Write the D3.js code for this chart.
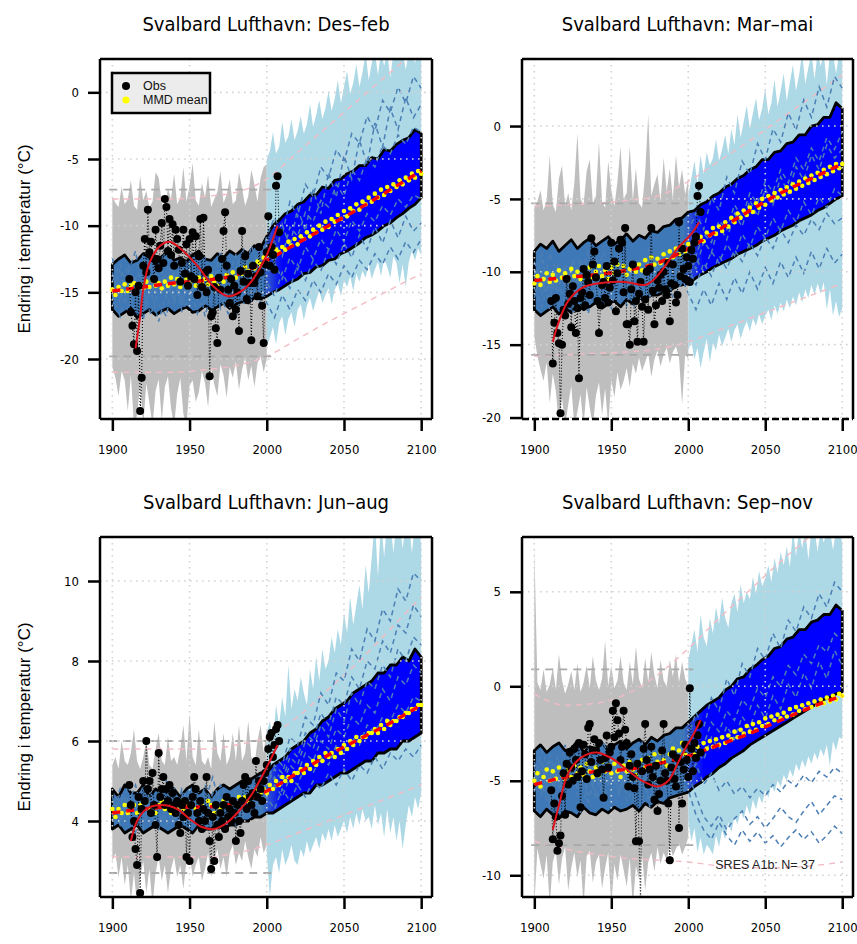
<!DOCTYPE html>
<html>
<head>
<meta charset="utf-8">
<script src="https://cdn.jsdelivr.net/npm/d3@7"></script>
<style>
  html, body { margin: 0; padding: 0; background: #fff; }
  svg { display: block; }
</style>
</head>
<body>
<svg id="chart" width="857" height="944"></svg>
<script>
// ---------- shared axis content ----------
const xDomain = [1892, 2107];
const xTicks = [1900, 1950, 2000, 2050, 2100];
const titles = ["Svalbard Lufthavn: Des–feb", "Svalbard Lufthavn: Mar–mai",
                "Svalbard Lufthavn: Jun–aug", "Svalbard Lufthavn: Sep–nov"];
const yLabel = "Endring i temperatur (°C)";
const legendLabels = ["Obs", "MMD mean"];
const ensembleNote = "SRES A1b: N= 37";

// year grids for the series below
const histYears = d3.range(1900, 2001, 2);   // 20C3M spread
const futYears = d3.range(2000, 2101, 2);    // scenario spread
const bandYears = d3.range(1900, 2101, 4);   // central ensemble band
const meanYears = d3.range(1900, 2101, 2);   // multi-model mean
const runYears = d3.range(1900, 2101, 5);    // single model runs
const trendYears = d3.range(1900, 2101, 20); // smoothed mean / quantile curves
const obsYears = d3.range(1911, 2009);       // station record

// ---------- Des–feb ----------
const djfYDomain = [-24.5, 2.5];
const djfYTicks = [-20, -15, -10, -5, 0];
const djfGreyHi = [-7.8,-8.3,-8.6,-7.1,-8.4,-8.0,-6.6,-8.5,-8.8,-6.3,
  -8.1,-7.4,-8.6,-8.2,-6.0,-6.4,-8.3,-8.7,-7.2,-8.0,
  -6.1,-8.4,-7.9,-5.6,-8.2,-7.0,-5.3,-8.1,-8.5,-6.8,
  -7.9,-6.2,-8.6,-8.0,-7.5,-5.9,-8.3,-7.7,-6.5,-8.4,
  -8.1,-6.0,-7.2,-8.5,-7.8,-5.8,-6.9,-8.2,-6.4,-5.6,
  -5.4];
const djfGreyLo = [-20.6,-21.4,-22.8,-20.9,-21.6,-23.9,-21.2,-25.0,-24.2,-22.0,
  -25.0,-21.8,-23.3,-25.0,-22.4,-21.5,-24.6,-22.1,-21.3,-23.7,
  -25.0,-22.6,-21.4,-24.1,-25.0,-22.0,-21.6,-23.2,-22.5,-20.9,
  -21.8,-23.6,-20.7,-21.9,-22.8,-20.4,-21.2,-22.9,-20.6,-21.4,
  -20.2,-22.3,-20.8,-19.9,-21.6,-20.5,-22.1,-20.3,-19.8,-21.0,
  -20.0];
const djfFutHi = [-5.0,-4.4,-3.0,-4.6,-4.1,-2.2,-3.8,-3.3,-2.0,-3.6,
  -2.9,-1.8,-3.1,-2.4,-0.9,-2.6,-1.7,-0.6,-2.0,-1.2,
  0.1,-1.4,-0.5,0.9,-0.8,0.4,1.6,-0.1,0.7,2.1,
  0.4,1.5,3.0,0.9,2.2,3.0,1.3,3.0,2.0,3.0,
  1.1,3.0,2.4,3.0,3.0,1.7,3.0,3.0,2.2,3.0,
  3.0];
const djfFutLo = [-19.0,-18.4,-17.6,-18.9,-17.3,-16.8,-18.2,-17.0,-16.5,-17.6,
  -16.3,-15.9,-17.1,-16.0,-15.4,-16.4,-15.6,-14.9,-15.8,-15.2,
  -14.7,-15.9,-14.8,-14.3,-15.3,-14.1,-14.6,-13.8,-14.9,-13.6,
  -14.2,-13.4,-13.9,-12.9,-14.0,-13.3,-12.7,-13.8,-12.5,-13.1,
  -13.9,-12.3,-12.8,-14.3,-12.9,-14.6,-12.7,-11.9,-12.6,-11.7,
  -12.2];
const djfBandHi = [-12.9,-12.5,-12.2,-12.8,-12.6,-12.1,-12.4,-12.9,-12.3,-12.0,
  -12.6,-12.4,-12.7,-12.2,-11.9,-12.5,-12.6,-12.1,-12.4,-11.9,
  -12.2,-11.8,-12.1,-11.5,-11.7,-10.8,-10.0,-9.6,-9.1,-8.9,
  -8.4,-8.2,-7.7,-7.7,-7.1,-7.2,-6.6,-6.5,-6.1,-5.9,
  -5.5,-5.5,-4.9,-5.0,-4.3,-4.4,-3.9,-3.6,-3.4,-2.8,
  -3.1];
const djfBandLo = [-16.3,-16.8,-16.5,-16.2,-16.9,-16.6,-16.3,-16.7,-16.4,-16.2,
  -16.6,-16.3,-16.1,-16.5,-16.4,-16.0,-16.3,-16.1,-15.8,-16.2,
  -15.9,-15.7,-15.8,-15.4,-15.5,-15.3,-15.0,-14.8,-14.5,-14.2,
  -14.0,-13.6,-13.5,-13.1,-13.0,-12.6,-12.5,-12.1,-11.9,-11.6,
  -11.3,-10.9,-10.7,-10.4,-10.0,-9.8,-9.4,-9.1,-8.7,-8.4,
  -7.9];
const djfMean = [-14.8,-15.2,-14.6,-14.9,-14.4,-14.9,-14.5,-14.3,-14.8,-14.4,
  -14.7,-14.2,-14.6,-14.1,-14.5,-14.3,-14.7,-14.2,-14.5,-13.9,
  -14.4,-14.0,-14.6,-14.2,-13.9,-14.4,-14.1,-14.5,-13.9,-14.3,
  -14.0,-14.4,-13.8,-14.2,-14.5,-13.9,-14.2,-13.7,-14.0,-13.5,
  -13.9,-13.4,-13.6,-13.1,-13.4,-12.9,-13.2,-12.7,-12.9,-12.4,
  -12.7,-12.2,-12.3,-11.8,-12.0,-11.6,-11.8,-11.2,-11.5,-11.0,
  -11.4,-10.8,-11.0,-10.5,-10.8,-10.3,-10.5,-10.0,-10.3,-9.7,
  -10.1,-9.5,-9.7,-9.2,-9.5,-8.9,-9.3,-8.7,-8.9,-8.4,
  -8.8,-8.2,-8.4,-7.9,-8.2,-7.6,-7.9,-7.3,-7.7,-7.1,
  -7.4,-6.9,-7.1,-6.6,-6.9,-6.4,-6.6,-6.1,-6.4,-5.9,
  -6.1];
const djfTrend = [-14.9,-14.6,-14.3,-14.1,-13.7,-12.6,-11.3,-10.0,-8.7,-7.3,-5.9];
const djfObs = [-14.0,-16.5,-17.5,-18.9,-15.0,-19.4,-14.5,-23.9,-21.4,-13.0,
  -11.0,-13.5,-8.8,-12.0,-11.2,-12.4,-14.0,-10.3,-12.5,-13.2,
  -11.5,-9.8,-12.8,-8.0,-8.6,-11.9,-9.5,-12.2,-9.9,-13.0,
  -10.3,-11.0,-11.8,-14.2,-12.8,-10.3,-13.6,-11.4,-14.5,-11.0,
  -13.8,-10.5,-14.0,-10.8,-15.2,-12.3,-9.5,-14.6,-9.4,-13.5,
  -15.0,-13.3,-21.3,-16.8,-16.5,-14.6,-17.7,-18.8,-13.9,-14.8,
  -12.5,-10.4,-9.0,-13.0,-14.8,-15.8,-14.0,-16.8,-14.5,-16.3,
  -15.0,-17.9,-13.4,-10.4,-14.2,-12.3,-15.5,-13.6,-14.3,-18.6,
  -13.0,-14.3,-13.8,-15.3,-11.6,-13.5,-16.0,-18.8,-12.9,-12.0,
  -9.3,-13.0,-11.6,-12.2,-13.3,-7.0,-6.3,-10.5];
const djfFit = [[1915,-19.2],[1918,-16.8],[1920,-14.8],[1924,-12.8],[1931,-11.5],[1937,-11.2],
  [1945,-11.8],[1955,-13.0],[1965,-14.5],[1975,-15.3],[1985,-14.8],[1990,-14.2],
  [1995,-13.3],[2000,-12.2],[2004,-11.0],[2007,-10.0]];
const djfRunA = [-13.5,-15.8,-12.9,-14.7,-12.2,-15.1,-13.0,-11.8,-14.4,-12.6,
  -15.2,-13.1,-12.4,-14.6,-11.9,-13.8,-12.2,-14.0,-11.5,-13.0,
  -10.8,-9.4,-10.6,-8.2,-9.3,-6.9,-7.8,-5.6,-6.4,-4.3,
  -5.2,-3.1,-3.8,-1.8,-2.9,-0.6,-1.5,0.4,-0.8,1.2,
  0.3];
const djfRunB = [-15.6,-13.2,-16.4,-14.0,-17.1,-13.8,-15.9,-16.8,-13.5,-15.7,
  -14.1,-16.6,-15.0,-13.4,-16.2,-14.8,-16.9,-14.5,-15.6,-14.2,
  -15.8,-16.9,-15.2,-16.3,-14.8,-15.6,-14.1,-15.0,-13.6,-14.4,
  -13.0,-13.9,-12.6,-13.3,-12.1,-12.9,-11.6,-12.5,-11.2,-12.0,
  -11.0];
const djfRunC = [-14.2,-12.9,-15.0,-16.3,-13.8,-14.7,-12.6,-15.4,-14.0,-16.1,
  -13.2,-14.4,-16.0,-13.6,-14.9,-12.8,-14.6,-13.1,-13.9,-12.4,
  -12.0,-11.2,-12.3,-10.1,-10.8,-9.0,-9.7,-8.1,-8.6,-6.9,
  -7.8,-5.8,-6.6,-4.9,-5.6,-4.0,-4.6,-3.2,-3.9,-2.6,
  -3.0];
const djfRunD = [-16.0,-14.6,-13.7,-15.5,-14.9,-16.7,-14.3,-13.6,-15.8,-14.2,
  -13.9,-15.6,-14.7,-16.3,-13.9,-15.2,-14.0,-15.9,-13.4,-14.7,
  -13.6,-12.8,-14.0,-12.4,-13.3,-11.6,-12.5,-11.0,-11.8,-10.3,
  -11.2,-9.6,-10.4,-9.1,-9.7,-8.5,-9.2,-8.0,-8.6,-7.7,
  -8.0];
const djfRunE = [-12.4,-14.9,-13.6,-11.9,-15.3,-13.0,-14.2,-12.7,-15.6,-13.4,
  -12.1,-14.8,-13.5,-15.0,-12.9,-14.3,-13.2,-11.8,-14.1,-12.6,
  -11.4,-12.8,-9.9,-11.6,-8.7,-10.4,-7.3,-9.1,-6.0,-7.9,
  -4.7,-6.5,-3.6,-5.4,-2.3,-4.1,-1.2,-2.8,-0.4,-1.9,
  -0.9];
const djfRunF = [-15.2,-16.8,-14.4,-13.9,-16.1,-14.9,-17.2,-15.0,-13.8,-16.4,
  -15.5,-13.7,-16.8,-14.6,-15.3,-16.6,-14.1,-15.7,-14.8,-15.9,
  -14.2,-15.3,-13.5,-14.7,-12.9,-14.1,-12.6,-13.4,-11.8,-12.9,
  -11.3,-12.4,-10.7,-11.8,-10.1,-11.3,-9.6,-10.9,-9.3,-10.4,
  -9.8];
const djfPinkHi = [-8.0,-8.0,-8.0,-7.8,-7.5,-6.5,-4.5,-2.5,-0.5,1.5,3.5];
const djfPinkLo = [-21.0,-21.0,-21.0,-20.8,-20.5,-19.8,-18.5,-17.2,-16.0,-14.8,-13.6];
const djfRef = [-7.3, -19.8];

// ---------- Mar–mai ----------
const mamYDomain = [-20.1, 4.6];
const mamYTicks = [-20, -15, -10, -5, 0];
const mamGreyHi = [-5.6,-5.2,-4.4,-5.8,-5.1,-2.0,-5.4,-5.9,-3.6,-2.7,
  -5.5,-4.6,-5.8,-3.9,-0.5,-5.0,-5.4,-3.1,-2.3,-5.3,
  -4.8,-1.1,-5.2,-5.6,-2.4,-4.4,-5.5,-3.8,-1.4,-5.0,
  -4.6,-1.4,-5.1,-2.9,-5.3,-5.6,-3.2,0.8,-4.8,-4.0,
  -3.3,-5.2,-2.2,-4.5,-2.9,-5.0,-2.0,-4.2,-3.0,-4.7,
  -3.6];
const mamGreyLo = [-14.4,-15.8,-16.7,-17.5,-16.2,-19.0,-17.0,-18.2,-20.6,-18.6,
  -20.6,-19.1,-17.8,-20.6,-19.6,-18.4,-20.6,-17.9,-19.3,-20.6,
  -18.5,-17.6,-19.8,-18.0,-20.6,-17.4,-18.6,-16.9,-18.1,-17.5,
  -16.6,-17.9,-16.3,-17.0,-15.9,-16.8,-16.2,-15.6,-17.2,-16.0,
  -15.4,-16.5,-15.7,-15.2,-16.3,-15.5,-15.1,-15.9,-19.1,-15.6,
  -16.0];
const mamFutHi = [-4.8,-3.6,-2.4,-4.0,-2.0,-3.3,-1.8,-2.7,-2.2,-0.9,
  -2.4,-1.6,-0.6,-1.9,-0.2,-1.3,0.8,-0.8,0.3,1.4,
  -0.2,0.9,1.9,0.4,1.2,2.6,0.8,1.6,3.2,1.3,
  2.4,3.6,1.7,3.0,4.2,2.4,3.5,5.0,2.9,4.0,
  5.0,3.2,5.0,4.1,5.0,2.8,5.0,5.0,3.6,5.0,
  5.0];
const mamFutLo = [-15.4,-14.8,-16.0,-15.2,-16.6,-15.5,-14.6,-16.2,-14.9,-15.4,
  -14.3,-15.1,-14.5,-13.9,-14.8,-14.0,-13.6,-14.6,-13.9,-13.4,
  -14.1,-13.2,-13.7,-12.9,-13.6,-13.0,-12.6,-13.3,-12.3,-12.9,
  -12.1,-12.7,-11.9,-12.5,-11.7,-12.3,-11.4,-12.1,-11.2,-11.8,
  -10.9,-11.6,-10.8,-11.5,-10.7,-12.6,-11.2,-13.0,-12.0,-13.1,
  -12.5];
const mamBandHi = [-8.6,-8.1,-8.4,-7.9,-8.6,-8.2,-7.8,-8.4,-8.0,-7.7,
  -8.2,-7.9,-7.6,-8.1,-7.8,-7.4,-7.9,-7.5,-7.7,-7.2,
  -7.3,-6.9,-6.8,-6.4,-6.3,-5.9,-5.8,-5.4,-5.2,-4.8,
  -4.6,-4.2,-4.0,-3.6,-3.4,-3.0,-2.8,-2.3,-2.3,-1.8,
  -1.7,-1.2,-1.1,-0.6,-0.6,0.0,0.1,0.6,0.6,1.6,
  1.2];
const mamBandLo = [-12.6,-13.0,-12.7,-12.4,-12.9,-12.5,-12.8,-12.3,-12.6,-12.4,
  -12.1,-12.5,-12.2,-12.0,-12.4,-11.9,-12.2,-11.8,-11.9,-11.6,
  -11.6,-11.4,-11.3,-11.0,-10.9,-10.8,-10.5,-10.2,-10.0,-9.7,
  -9.5,-9.3,-9.1,-8.8,-8.6,-8.4,-8.2,-7.9,-7.7,-7.5,
  -7.2,-7.0,-6.8,-6.5,-6.3,-6.1,-5.8,-5.6,-5.3,-5.0,
  -4.8];
const mamMean = [-10.8,-10.3,-10.9,-10.5,-10.1,-10.7,-10.2,-10.6,-9.9,-10.4,
  -10.1,-10.6,-9.8,-10.3,-10.0,-10.5,-9.8,-10.2,-9.7,-10.4,
  -10.0,-9.6,-10.3,-9.9,-10.5,-9.7,-10.1,-9.5,-10.0,-9.6,
  -10.2,-9.8,-9.4,-10.0,-9.5,-9.9,-9.2,-9.6,-9.0,-9.5,
  -9.1,-9.4,-8.8,-9.2,-8.6,-9.0,-8.4,-8.8,-8.2,-8.6,
  -8.1,-8.5,-7.9,-8.0,-7.6,-7.9,-7.3,-7.5,-7.0,-7.4,
  -6.9,-7.2,-6.6,-6.9,-6.3,-6.6,-6.0,-6.3,-5.8,-6.1,
  -5.6,-5.9,-5.3,-5.6,-5.0,-5.4,-4.8,-5.1,-4.6,-4.9,
  -4.4,-4.7,-4.2,-4.5,-4.0,-4.3,-3.8,-4.1,-3.6,-3.9,
  -3.4,-3.7,-3.2,-3.5,-3.0,-3.3,-2.8,-3.1,-2.6,-2.9,
  -2.6];
const mamTrend = [-10.6,-10.4,-10.2,-9.9,-9.4,-8.4,-7.1,-5.8,-4.6,-3.6,-2.6];
const mamObs = [-12.0,-16.3,-13.5,-11.8,-14.2,-14.9,-19.7,-15.0,-12.6,-13.0,
  -10.5,-12.2,-11.5,-13.8,-11.0,-12.0,-14.2,-12.5,-17.3,-11.8,
  -11.4,-9.8,-12.3,-10.2,-10.7,-11.6,-7.7,-9.5,-8.6,-10.4,
  -12.0,-14.2,-12.3,-10.9,-10.7,-11.8,-9.6,-12.1,-11.1,-8.0,
  -10.6,-9.3,-12.7,-10.1,-8.4,-7.8,-8.0,-11.4,-7.0,-13.6,
  -13.6,-15.0,-11.2,-9.5,-13.4,-12.0,-14.8,-11.5,-10.7,-12.4,
  -14.8,-11.9,-10.0,-12.6,-9.8,-7.0,-11.3,-13.6,-12.3,-10.6,
  -11.1,-10.2,-12.0,-10.0,-11.2,-11.6,-9.4,-13.4,-10.8,-9.5,
  -10.9,-12.1,-11.6,-6.6,-10.3,-8.4,-9.8,-10.5,-9.0,-9.6,
  -10.7,-8.5,-9.1,-8.0,-7.6,-4.8,-4.1,-5.9];
const mamFit = [[1912,-14.8],[1916,-13.4],[1922,-12.0],[1931,-11.1],[1941,-10.8],[1959,-10.7],
  [1972,-10.9],[1978,-10.5],[1985,-9.6],[1993,-8.4],[2002,-7.4],[2007,-6.6]];
const mamRunA = [-9.8,-11.6,-8.7,-10.4,-12.2,-9.1,-10.8,-8.5,-11.5,-9.6,
  -10.9,-8.8,-11.2,-9.3,-10.6,-8.2,-10.1,-9.0,-8.4,-9.5,
  -7.2,-6.0,-7.1,-4.9,-5.8,-3.5,-4.6,-2.4,-3.3,-1.2,
  -2.3,-0.2,-1.1,0.9,-0.3,1.8,0.6,2.7,1.3,3.4,
  2.6];
const mamRunB = [-11.8,-9.9,-12.6,-10.8,-9.5,-12.3,-10.4,-12.9,-10.1,-11.7,
  -9.6,-12.0,-10.5,-12.4,-9.8,-11.6,-10.3,-11.9,-11.0,-10.2,
  -11.5,-12.6,-11.2,-12.3,-10.8,-11.9,-10.4,-11.5,-10.0,-11.2,
  -9.7,-10.8,-9.3,-10.4,-9.0,-10.1,-8.6,-9.8,-8.4,-9.4,
  -8.8];
const mamRunC = [-10.5,-9.2,-11.3,-9.7,-10.9,-11.8,-9.4,-10.2,-9.0,-10.7,
  -11.4,-9.9,-9.3,-10.8,-11.1,-9.5,-9.2,-10.6,-9.9,-8.8,
  -8.5,-8.9,-7.4,-8.0,-6.5,-7.1,-5.4,-6.3,-4.6,-5.3,
  -3.8,-4.5,-3.0,-3.9,-2.2,-3.0,-1.5,-2.4,-0.8,-1.6,
  -0.4];
const mamRunD = [-9.3,-10.9,-12.0,-9.8,-11.0,-10.3,-12.4,-9.6,-10.8,-12.1,
  -9.9,-10.6,-12.3,-10.0,-9.4,-11.7,-10.9,-9.8,-10.6,-9.5,
  -10.2,-9.1,-10.0,-8.6,-9.4,-8.1,-8.9,-7.4,-8.3,-6.9,
  -7.7,-6.3,-7.2,-5.8,-6.6,-5.2,-6.1,-4.9,-5.6,-4.3,
  -4.8];
const mamRunE = [-10.2,-8.8,-11.9,-9.5,-10.6,-12.3,-9.1,-11.0,-10.3,-8.6,
  -11.8,-10.0,-9.2,-11.4,-10.5,-8.9,-11.1,-9.7,-10.8,-9.0,
  -8.6,-9.8,-7.9,-8.7,-6.8,-7.8,-6.0,-6.9,-5.1,-6.2,
  -4.3,-5.4,-3.5,-4.6,-2.8,-3.7,-2.0,-3.0,-1.3,-2.2,
  -1.6];
const mamRunF = [-11.1,-12.4,-10.0,-11.5,-9.6,-12.8,-11.3,-10.1,-12.0,-10.8,
  -12.5,-10.2,-11.6,-9.9,-12.2,-10.7,-11.4,-10.0,-11.8,-10.9,
  -9.8,-10.9,-9.4,-10.3,-8.9,-9.8,-8.5,-9.3,-8.0,-8.9,
  -7.6,-8.4,-7.1,-8.0,-6.8,-7.5,-6.4,-7.1,-6.0,-6.7,
  -6.3];
const mamPinkHi = [-5.5,-5.4,-5.3,-5.1,-4.8,-3.8,-2.4,-1.0,0.5,2.0,3.5];
const mamPinkLo = [-15.8,-15.7,-15.6,-15.5,-15.3,-14.8,-14.0,-13.2,-12.4,-11.6,-10.8];
const mamRef = [-5.3, -15.7];

// ---------- Jun–aug ----------
const jjaYDomain = [2.1, 11.1];
const jjaYTicks = [4, 6, 8, 10];
const jjaGreyHi = [5.4,5.6,5.3,6.0,5.5,5.4,5.7,6.3,5.5,5.3,
  5.6,6.0,5.4,5.3,5.8,6.2,5.5,5.4,6.1,5.5,
  5.6,5.4,5.8,6.4,5.5,6.7,5.6,5.4,6.3,5.5,
  5.4,5.6,5.3,6.5,5.7,5.5,6.2,5.4,5.6,6.2,
  5.5,6.4,5.5,5.7,6.5,5.6,5.4,6.0,6.4,5.7,
  6.3];
const jjaGreyLo = [3.0,3.2,2.6,3.1,2.4,2.9,2.0,2.7,1.9,2.6,
  3.0,2.2,2.8,1.9,2.7,3.1,2.5,2.9,2.2,2.8,
  3.1,2.6,2.9,2.3,3.0,3.2,2.6,2.9,3.1,2.5,
  2.8,3.2,2.6,3.0,3.3,2.8,3.1,2.6,3.2,3.4,
  2.9,3.2,3.0,3.5,3.1,2.8,3.3,3.1,3.6,3.2,
  3.4];
const jjaFutHi = [6.2,6.5,6.0,6.9,6.4,7.1,6.6,7.9,6.8,7.3,
  7.0,7.6,7.2,6.9,7.8,7.3,8.1,7.5,8.3,7.8,
  8.0,8.6,8.2,8.8,8.4,9.2,8.7,9.6,8.9,9.4,
  9.9,9.3,10.4,9.7,10.6,11.5,10.1,11.5,10.6,11.5,
  11.5,10.7,11.5,11.5,10.8,11.5,11.5,10.7,11.5,11.5,
  10.9];
const jjaFutLo = [3.2,2.1,2.9,3.1,2.7,3.3,2.9,3.1,3.4,3.0,
  2.9,3.3,3.1,3.5,3.2,3.4,3.6,3.3,3.7,3.5,
  3.8,3.5,3.9,3.6,3.8,4.0,3.7,4.1,3.8,4.2,
  3.9,4.3,4.0,4.1,3.8,4.4,3.9,4.2,3.6,4.3,
  3.7,4.1,3.5,4.0,3.3,3.9,4.4,4.1,4.6,4.3,
  4.7];
const jjaBandHi = [4.8,4.6,4.9,4.7,4.7,4.9,4.6,4.8,4.7,4.9,
  4.8,4.6,4.8,4.9,4.7,4.8,4.6,4.8,4.9,4.8,
  4.9,5.0,5.0,5.1,5.2,5.2,5.4,5.5,5.6,5.8,
  5.9,6.0,6.2,6.3,6.5,6.6,6.8,6.9,7.0,7.2,
  7.3,7.4,7.5,7.7,7.7,7.9,7.9,8.1,8.0,8.3,
  8.1];
const jjaBandLo = [3.8,3.9,3.7,3.8,3.9,3.7,3.8,3.9,3.8,3.7,
  3.8,3.9,3.8,3.7,3.9,3.8,3.8,3.9,3.8,3.9,
  3.9,4.0,4.0,4.1,4.1,4.2,4.2,4.3,4.4,4.5,
  4.6,4.7,4.7,4.9,4.9,5.0,5.1,5.2,5.2,5.3,
  5.4,5.5,5.5,5.7,5.7,5.8,5.8,6.0,6.0,6.1,
  6.2];
const jjaMean = [4.3,4.1,4.3,4.2,4.4,4.2,4.3,4.4,4.2,4.4,
  4.3,4.5,4.3,4.4,4.2,4.4,4.5,4.3,4.4,4.2,
  4.4,4.3,4.5,4.3,4.4,4.2,4.4,4.3,4.5,4.4,
  4.3,4.5,4.4,4.2,4.4,4.3,4.5,4.4,4.3,4.5,
  4.4,4.6,4.5,4.6,4.5,4.7,4.6,4.8,4.7,4.8,
  4.7,4.9,4.8,5.0,4.9,5.1,5.0,5.1,5.0,5.2,
  5.2,5.3,5.2,5.4,5.3,5.5,5.4,5.6,5.5,5.7,
  5.6,5.7,5.6,5.8,5.7,5.9,5.8,6.0,5.9,6.1,
  6.0,6.1,6.1,6.2,6.2,6.3,6.2,6.4,6.3,6.5,
  6.4,6.5,6.5,6.6,6.6,6.7,6.7,6.8,6.8,6.9,
  6.9];
const jjaTrend = [4.2,4.3,4.35,4.35,4.45,4.75,5.2,5.65,6.05,6.45,6.9];
const jjaObs = [4.9,4.4,3.6,4.0,3.3,2.9,4.6,2.2,4.3,5.0,
  4.5,6.0,4.8,5.0,4.2,5.2,4.4,3.9,3.1,5.7,
  4.6,4.8,5.1,4.4,4.8,4.5,4.9,4.3,4.7,4.4,
  4.2,4.5,3.9,3.7,4.4,4.1,4.5,3.1,4.2,3.0,
  4.4,4.6,5.1,4.8,4.2,4.0,4.5,3.8,4.3,4.0,
  5.1,4.2,3.5,2.8,4.1,3.0,4.4,3.9,3.6,4.2,
  4.0,4.4,3.8,4.6,4.1,4.3,4.0,4.5,4.2,3.5,
  4.4,4.0,3.7,4.5,4.9,5.1,4.3,5.0,4.6,4.4,
  4.7,4.2,5.5,4.6,5.0,4.8,4.5,5.0,5.2,5.4,
  5.8,6.1,6.2,5.6,5.9,6.3,6.4,6.0];
const jjaFit = [[1912,3.5],[1916,4.0],[1922,4.3],[1932,4.4],[1942,4.3],[1950,4.05],[1958,3.85],
  [1966,3.8],[1974,3.95],[1982,4.25],[1990,4.65],[1996,5.05],[2002,5.5],[2007,5.9]];
const jjaRunA = [4.6,4.0,4.9,4.3,3.8,4.7,4.2,5.0,4.4,3.9,
  4.8,4.1,4.5,5.1,4.3,4.0,4.7,4.4,4.9,4.6,
  5.3,5.6,5.4,6.1,5.9,6.6,6.4,7.2,6.9,7.7,
  7.5,8.3,8.0,8.8,8.5,9.3,9.0,9.8,9.5,10.2,
  10.0];
const jjaRunB = [4.0,4.6,4.2,3.7,4.5,4.1,4.8,3.9,4.4,4.7,
  4.0,4.5,3.8,4.3,4.6,4.1,3.9,4.5,4.2,4.4,
  4.6,4.3,4.8,4.5,4.9,4.6,5.0,4.8,5.2,4.9,
  5.3,5.0,5.4,5.2,5.6,5.3,5.7,5.5,5.8,5.6,
  5.9];
const jjaRunC = [4.3,4.8,4.1,4.6,4.4,3.9,4.7,4.5,4.0,4.8,
  4.4,3.9,4.6,4.2,4.9,4.5,4.1,4.8,4.4,4.7,
  4.9,5.3,5.0,5.6,5.4,6.0,5.8,6.4,6.1,6.8,
  6.5,7.2,6.9,7.5,7.3,7.9,7.6,8.3,8.0,8.6,
  8.4];
const jjaRunD = [4.5,4.2,4.4,4.9,4.1,4.6,4.0,4.3,4.8,4.2,
  4.6,4.3,4.1,4.7,4.0,4.4,4.8,4.2,4.6,4.3,
  4.7,4.9,4.6,5.1,4.9,5.4,5.2,5.6,5.4,5.9,
  5.7,6.1,5.9,6.4,6.2,6.6,6.5,6.9,6.7,7.1,
  7.0];
const jjaRunE = [4.1,4.7,4.4,3.9,4.8,4.2,4.5,4.9,4.0,4.6,
  4.3,4.8,4.2,4.5,3.9,4.7,4.3,4.1,4.6,4.4,
  4.8,5.1,4.9,5.4,5.2,5.7,5.5,6.0,5.8,6.3,
  6.1,6.6,6.4,6.9,6.7,7.3,7.0,7.6,7.4,7.9,
  7.7];
const jjaRunF = [4.4,3.9,4.6,4.2,4.9,4.5,3.8,4.4,4.7,4.1,
  4.5,4.2,4.9,4.4,4.1,4.6,4.4,4.9,4.3,4.6,
  5.0,5.4,5.2,5.8,5.6,6.2,6.0,6.7,6.4,7.1,
  6.9,7.6,7.3,8.0,7.8,8.5,8.2,8.9,8.7,9.4,
  9.1];
const jjaPinkHi = [5.8,5.8,5.8,5.8,5.9,6.1,6.6,7.3,8.0,8.8,9.6];
const jjaPinkLo = [3.1,3.1,3.1,3.1,3.2,3.4,3.7,4.0,4.3,4.6,4.9];
const jjaRef = [6.0, 2.7];

// ---------- Sep–nov ----------
const sonYDomain = [-11.15, 7.9];
const sonYTicks = [-10, -5, 0, 5];
const sonGreyHi = [7.4,0.2,-0.2,0.9,-0.3,0.1,1.0,-0.2,1.7,0.3,
  -0.4,0.1,0.8,-0.2,1.2,-0.3,0.2,1.1,-0.1,1.6,
  0.3,-0.2,0.4,2.4,0.0,1.1,-0.1,0.3,1.6,0.2,
  -0.2,1.3,0.1,2.1,0.4,-0.1,1.5,0.2,1.8,0.6,
  -0.1,1.4,0.3,0.0,1.4,0.5,1.7,0.2,1.3,0.4,
  0.0];
const sonGreyLo = [-11.6,-8.6,-9.4,-10.2,-8.9,-11.6,-9.3,-8.7,-10.5,-9.1,
  -8.5,-10.8,-9.6,-8.8,-10.1,-9.2,-11.6,-9.0,-8.7,-10.4,
  -9.3,-8.9,-10.7,-9.6,-8.8,-11.6,-9.4,-10.3,-8.9,-9.7,
  -10.6,-9.1,-11.6,-9.5,-10.2,-8.9,-10.8,-9.3,-8.8,-9.8,
  -8.5,-9.4,-8.8,-9.2,-8.4,-9.0,-8.6,-8.3,-8.9,-8.5,
  -8.0];
const sonFutHi = [1.4,2.2,3.0,1.8,3.8,2.6,2.1,3.6,2.8,4.2,
  3.3,4.7,3.6,3.1,4.4,4.9,3.9,5.4,4.4,5.0,
  4.6,5.8,4.9,6.1,5.3,5.7,6.4,5.5,6.8,6.0,
  7.1,6.4,7.4,6.3,8.3,6.9,8.3,7.3,8.3,6.7,
  8.3,8.3,7.1,8.3,7.6,8.3,8.3,7.2,8.3,8.3,
  7.6];
const sonFutLo = [-7.1,-8.2,-7.5,-8.8,-8.0,-8.9,-8.4,-8.6,-8.9,-7.9,
  -8.5,-7.6,-8.1,-7.2,-7.7,-6.9,-7.3,-6.6,-7.0,-6.3,
  -6.8,-6.0,-6.5,-5.8,-6.2,-5.5,-5.9,-5.2,-5.6,-5.0,
  -5.3,-4.7,-5.0,-4.4,-4.8,-4.1,-4.5,-3.9,-4.3,-3.7,
  -4.1,-3.5,-3.9,-3.3,-3.7,-3.1,-4.2,-2.9,-3.4,-2.7,
  -2.8];
const sonBandHi = [-3.4,-3.1,-3.5,-3.2,-3.0,-3.4,-3.3,-2.9,-3.5,-3.2,
  -3.3,-3.0,-3.4,-3.1,-2.9,-3.3,-3.0,-2.8,-3.1,-2.7,
  -2.9,-2.6,-2.5,-2.2,-2.2,-1.9,-1.6,-1.3,-1.0,-0.8,
  -0.6,-0.2,0.0,0.4,0.5,0.9,1.1,1.4,1.6,2.0,
  2.1,2.5,2.6,3.0,3.0,3.4,3.5,3.8,3.8,4.3,
  4.0];
const sonBandLo = [-6.6,-6.9,-6.5,-6.8,-7.0,-6.6,-6.7,-6.9,-6.4,-6.7,
  -6.8,-6.5,-6.7,-6.4,-6.6,-6.5,-6.3,-6.6,-6.2,-6.4,
  -6.1,-6.2,-5.9,-5.8,-5.7,-5.6,-5.3,-5.1,-4.8,-4.6,
  -4.3,-4.1,-3.8,-3.6,-3.4,-3.1,-2.9,-2.7,-2.5,-2.3,
  -2.1,-1.9,-1.7,-1.5,-1.3,-1.1,-0.9,-0.7,-0.6,-0.4,
  -0.3];
const sonMean = [-5.0,-4.6,-5.3,-4.8,-4.4,-5.0,-4.5,-4.9,-4.3,-4.7,
  -4.9,-4.4,-4.8,-4.2,-4.6,-4.3,-4.7,-4.1,-4.5,-4.8,
  -4.3,-4.7,-4.0,-4.5,-4.2,-4.6,-4.1,-4.5,-4.8,-4.2,
  -4.5,-4.0,-4.4,-4.7,-4.1,-3.9,-4.3,-3.8,-4.2,-3.6,
  -4.0,-3.5,-3.9,-4.2,-3.6,-3.3,-3.8,-3.4,-3.0,-3.6,
  -3.8,-3.3,-3.6,-3.2,-3.5,-3.0,-3.3,-2.9,-3.2,-2.8,
  -3.1,-2.7,-3.0,-2.6,-2.8,-2.4,-2.7,-2.3,-2.5,-2.1,
  -2.4,-2.0,-2.3,-1.9,-2.1,-1.7,-2.0,-1.6,-1.8,-1.5,
  -1.7,-1.4,-1.6,-1.2,-1.5,-1.1,-1.3,-1.0,-1.2,-0.9,
  -1.1,-0.8,-1.0,-0.7,-0.9,-0.6,-0.8,-0.5,-0.7,-0.4,
  -0.5];
const sonTrend = [-5.2,-4.8,-4.5,-4.4,-4.1,-3.7,-3.1,-2.5,-1.8,-1.1,-0.5];
const sonObs = [-5.5,-8.1,-6.2,-6.9,-8.7,-8.3,-7.9,-5.8,-4.6,-6.8,
  -4.1,-5.2,-3.5,-4.3,-5.0,-3.3,-3.9,-4.8,-3.0,-6.4,
  -4.5,-3.1,-3.6,-4.9,-2.2,-2.0,-4.0,-3.4,-2.8,-3.4,
  -4.6,-3.0,-3.9,-4.4,-5.9,-3.8,-2.6,-4.3,-3.5,-3.2,
  -1.3,-2.7,-0.9,-1.8,-2.5,-3.9,-3.2,-1.3,-2.3,-3.0,
  -5.3,-4.2,-3.6,-4.8,-5.4,-8.2,-4.1,-8.2,-11.3,-4.5,
  -3.3,-2.0,-3.9,-5.2,-4.4,-3.2,-4.8,-6.0,-4.2,-6.6,
  -5.7,-5.0,-3.4,-2.0,-4.6,-5.0,-6.2,-9.2,-4.3,-3.6,
  -4.9,-5.3,-3.8,-7.5,-4.0,-6.2,-4.4,-3.1,-3.9,-4.8,
  -0.1,-3.3,-4.5,-3.0,-3.8,-2.6,-2.0,-3.5];
const sonFit = [[1912,-7.6],[1916,-6.3],[1922,-4.6],[1930,-3.8],[1940,-3.5],[1950,-3.8],[1960,-4.4],
  [1970,-5.0],[1980,-5.3],[1987,-5.0],[1993,-4.1],[1998,-3.3],[2003,-2.6],[2008,-1.8]];
const sonRunA = [-4.2,-5.8,-3.6,-5.0,-3.1,-4.6,-5.5,-3.3,-4.8,-2.9,
  -4.4,-5.6,-3.5,-4.9,-3.0,-4.3,-5.2,-3.4,-2.8,-4.0,
  -2.6,-1.4,-2.2,-0.6,-1.3,0.4,-0.5,1.2,0.5,2.0,
  1.4,2.8,2.0,3.5,2.9,4.2,3.6,4.9,4.2,5.5,
  5.0];
const sonRunB = [-5.6,-3.9,-6.3,-4.7,-5.9,-4.1,-6.7,-5.0,-3.8,-6.0,
  -4.6,-3.7,-6.1,-5.2,-4.0,-6.4,-4.5,-5.5,-4.2,-5.0,
  -4.6,-5.8,-6.9,-7.4,-6.8,-7.6,-7.0,-6.6,-7.3,-6.9,
  -7.5,-7.0,-6.4,-6.9,-7.2,-6.6,-6.1,-6.8,-6.3,-5.8,
  -6.0];
const sonRunC = [-4.9,-3.4,-4.5,-6.2,-3.8,-5.3,-4.0,-5.9,-4.4,-3.6,
  -5.1,-4.2,-4.7,-3.2,-5.4,-3.9,-4.6,-5.0,-3.6,-3.2,
  -3.5,-2.6,-3.1,-1.9,-2.4,-1.3,-1.8,-0.7,-1.2,-0.1,
  -0.6,0.5,0.0,1.1,0.6,1.7,1.2,2.2,1.8,2.8,
  2.4];
const sonRunD = [-4.0,-5.2,-6.5,-4.4,-5.6,-3.5,-4.9,-4.2,-6.0,-5.1,
  -3.9,-5.8,-4.3,-6.2,-4.8,-3.6,-5.5,-4.1,-5.3,-4.5,
  -4.9,-4.1,-5.2,-4.6,-5.5,-5.0,-5.7,-5.3,-5.9,-5.4,
  -5.8,-5.2,-5.6,-5.0,-5.3,-4.7,-5.1,-4.5,-4.8,-4.3,
  -4.6];
const sonRunE = [-5.1,-4.3,-6.0,-3.7,-5.4,-4.8,-3.9,-6.3,-4.6,-5.7,
  -3.8,-4.9,-5.6,-4.1,-6.1,-4.7,-3.9,-5.3,-4.4,-5.0,
  -5.5,-6.8,-7.6,-8.1,-7.2,-7.9,-8.4,-7.6,-8.2,-7.7,
  -8.3,-7.9,-8.5,-8.0,-7.6,-8.1,-7.7,-8.3,-7.9,-7.4,
  -7.8];
const sonRunF = [-4.6,-5.5,-4.0,-5.1,-6.0,-4.4,-5.2,-3.7,-5.8,-4.3,
  -4.9,-3.6,-5.4,-4.2,-5.0,-5.9,-4.0,-4.7,-5.3,-3.9,
  -4.2,-3.4,-3.9,-2.7,-3.3,-2.1,-2.8,-1.6,-2.2,-1.0,
  -1.7,-0.5,-1.2,0.1,-0.6,0.7,-0.1,1.3,0.4,1.9,
  1.1];
const sonPinkHi = [-0.4,-1.0,-0.9,-0.4,0.6,2.0,3.6,5.1,6.6,8.0,9.4];
const sonPinkLo = [-8.2,-8.6,-8.9,-9.1,-9.2,-9.3,-9.5,-9.6,-9.6,-9.5,-9.3];
const sonRef = [0.9, -8.4];

// ---------- panel assembly ----------
const seasons = [
  { title: titles[0], yDomain: djfYDomain, yTicks: djfYTicks, greyHi: djfGreyHi, greyLo: djfGreyLo,
    futHi: djfFutHi, futLo: djfFutLo, bandHi: djfBandHi, bandLo: djfBandLo, mean: djfMean,
    trend: djfTrend, obs: djfObs, fit: djfFit,
    runs: [djfRunA, djfRunB, djfRunC, djfRunD, djfRunE, djfRunF],
    pinkHi: djfPinkHi, pinkLo: djfPinkLo, ref: djfRef },
  { title: titles[1], yDomain: mamYDomain, yTicks: mamYTicks, greyHi: mamGreyHi, greyLo: mamGreyLo,
    futHi: mamFutHi, futLo: mamFutLo, bandHi: mamBandHi, bandLo: mamBandLo, mean: mamMean,
    trend: mamTrend, obs: mamObs, fit: mamFit,
    runs: [mamRunA, mamRunB, mamRunC, mamRunD, mamRunE, mamRunF],
    pinkHi: mamPinkHi, pinkLo: mamPinkLo, ref: mamRef },
  { title: titles[2], yDomain: jjaYDomain, yTicks: jjaYTicks, greyHi: jjaGreyHi, greyLo: jjaGreyLo,
    futHi: jjaFutHi, futLo: jjaFutLo, bandHi: jjaBandHi, bandLo: jjaBandLo, mean: jjaMean,
    trend: jjaTrend, obs: jjaObs, fit: jjaFit,
    runs: [jjaRunA, jjaRunB, jjaRunC, jjaRunD, jjaRunE, jjaRunF],
    pinkHi: jjaPinkHi, pinkLo: jjaPinkLo, ref: jjaRef },
  { title: titles[3], yDomain: sonYDomain, yTicks: sonYTicks, greyHi: sonGreyHi, greyLo: sonGreyLo,
    futHi: sonFutHi, futLo: sonFutLo, bandHi: sonBandHi, bandLo: sonBandLo, mean: sonMean,
    trend: sonTrend, obs: sonObs, fit: sonFit,
    runs: [sonRunA, sonRunB, sonRunC, sonRunD, sonRunE, sonRunF],
    pinkHi: sonPinkHi, pinkLo: sonPinkLo, ref: sonRef }
];

// plot frames (pixels) for the 2x2 layout
const frames = [
  { x0: 100, x1: 432, y0: 59, y1: 419 },
  { x0: 522, x1: 853, y0: 59, y1: 419 },
  { x0: 100, x1: 432, y0: 537, y1: 897 },
  { x0: 522, x1: 853, y0: 537, y1: 897 }
];

const NARROW = '"Liberation Sans Narrow","Arial Narrow","DejaVu Sans Condensed",sans-serif';
const SANS = '"Liberation Sans",Arial,Helvetica,sans-serif';

const svg = d3.select("#chart");
const defs = svg.append("defs");

seasons.forEach((s, i) => {
  const f = frames[i];
  const x = d3.scaleLinear().domain(xDomain).range([f.x0, f.x1]);
  const y = d3.scaleLinear().domain(s.yDomain).range([f.y1, f.y0]);

  defs.append("clipPath").attr("id", "clip" + i)
    .append("rect").attr("x", f.x0).attr("y", f.y0)
    .attr("width", f.x1 - f.x0).attr("height", f.y1 - f.y0);

  // band colour: steel blue over the 20th century, pure blue for the scenario
  const grad = defs.append("linearGradient").attr("id", "bandFill" + i)
    .attr("gradientUnits", "userSpaceOnUse")
    .attr("x1", x(1997)).attr("x2", x(2010)).attr("y1", 0).attr("y2", 0);
  grad.append("stop").attr("offset", 0).attr("stop-color", "#3f78b6");
  grad.append("stop").attr("offset", 1).attr("stop-color", "#0000ff");

  const spread = (yrs, hi, lo) => d3.area()
    .x((d, k) => x(yrs[k])).y0((d, k) => y(lo[k])).y1(d => y(d))(hi);
  const path = (yrs, vals, curve) => d3.line()
    .x((d, k) => x(yrs[k])).y(d => y(d)).curve(curve || d3.curveLinear)(vals);

  const g = svg.append("g").attr("clip-path", `url(#clip${i})`);

  // ensemble spreads
  g.append("path").attr("d", spread(histYears, s.greyHi, s.greyLo)).attr("fill", "#bebebe");
  g.append("path").attr("d", spread(futYears, s.futHi, s.futLo)).attr("fill", "#add8e6");

  // quantile curves and observed reference levels
  [s.pinkHi, s.pinkLo].forEach(v => g.append("path")
    .attr("d", path(trendYears, v, d3.curveMonotoneX))
    .attr("fill", "none").attr("stroke", "#f3bcc4").attr("stroke-width", 1.4)
    .attr("stroke-dasharray", "6,5"));
  s.ref.forEach(v => g.append("line")
    .attr("x1", x(1898)).attr("x2", x(2004)).attr("y1", y(v)).attr("y2", y(v))
    .attr("stroke", "#a9a9a9").attr("stroke-width", 1.8).attr("stroke-dasharray", "8,6"));

  // central band with dark jagged edges
  g.append("path").attr("d", spread(bandYears, s.bandHi, s.bandLo))
    .attr("fill", `url(#bandFill${i})`).attr("stroke", "#000")
    .attr("stroke-width", 2.8).attr("stroke-linejoin", "round");

  // individual model runs
  s.runs.forEach(r => g.append("path").attr("d", path(runYears, r))
    .attr("fill", "none").attr("stroke", "#4b7fb5").attr("stroke-width", 1.5)
    .attr("stroke-dasharray", "5,4"));

  // dotted grid
  xTicks.forEach(t => g.append("line").attr("x1", x(t)).attr("x2", x(t))
    .attr("y1", f.y0).attr("y2", f.y1)
    .attr("stroke", "#d2d2d2").attr("stroke-width", 1.6).attr("stroke-dasharray", "1.6,4.4"));
  s.yTicks.forEach(t => g.append("line").attr("x1", f.x0).attr("x2", f.x1)
    .attr("y1", y(t)).attr("y2", y(t))
    .attr("stroke", "#d2d2d2").attr("stroke-width", 1.6).attr("stroke-dasharray", "1.6,4.4"));

  // multi-model mean and its smooth trend
  g.append("g").selectAll("circle").data(s.mean).join("circle")
    .attr("cx", (d, k) => x(meanYears[k])).attr("cy", d => y(d))
    .attr("r", 2.3).attr("fill", "#ffff00");
  g.append("path").attr("d", path(trendYears, s.trend, d3.curveMonotoneX))
    .attr("fill", "none").attr("stroke", "#ff0000").attr("stroke-width", 3.4)
    .attr("stroke-dasharray", "8,6");

  // observations
  g.append("path").attr("d", path(obsYears, s.obs))
    .attr("fill", "none").attr("stroke", "#000").attr("stroke-width", 1.1)
    .attr("stroke-dasharray", "1,2");
  g.append("g").selectAll("circle").data(s.obs).join("circle")
    .attr("cx", (d, k) => x(obsYears[k])).attr("cy", d => y(d))
    .attr("r", 4).attr("fill", "#000");
  g.append("path")
    .attr("d", d3.line().x(d => x(d[0])).y(d => y(d[1])).curve(d3.curveCatmullRom)(s.fit))
    .attr("fill", "none").attr("stroke", "#e0141e").attr("stroke-width", 2);

  // frame
  const fr = svg.append("g").attr("stroke", "#000").attr("stroke-width", 2.5).attr("fill", "none");
  fr.append("line").attr("x1", f.x0).attr("x2", f.x1).attr("y1", f.y0).attr("y2", f.y0);
  fr.append("line").attr("x1", f.x0).attr("x2", f.x0).attr("y1", f.y0).attr("y2", f.y1);
  fr.append("line").attr("x1", f.x1).attr("x2", f.x1).attr("y1", f.y0).attr("y2", f.y1);
  fr.append("line").attr("x1", f.x0).attr("x2", f.x1).attr("y1", f.y1).attr("y2", f.y1)
    .attr("stroke-dasharray", i === 1 ? "7,3" : null);

  // axes
  const xAxis = d3.axisBottom(x).tickValues(xTicks).tickSize(12).tickPadding(14).tickFormat(d3.format("d"));
  const yAxis = d3.axisLeft(y).tickValues(s.yTicks).tickSize(12).tickPadding(9).tickFormat(d => d);
  [svg.append("g").attr("transform", `translate(0,${f.y1})`).call(xAxis),
   svg.append("g").attr("transform", `translate(${f.x0},0)`).call(yAxis)].forEach(ax => {
    ax.select(".domain").remove();
    ax.selectAll(".tick line").attr("stroke", "#000").attr("stroke-width", 2.5);
    ax.selectAll(".tick text").attr("fill", "#000")
      .style("font-family", NARROW).style("font-size", "13px");
  });

  // title
  svg.append("text").attr("x", (f.x0 + f.x1) / 2).attr("y", f.y0 - 28)
    .attr("text-anchor", "middle").style("font-family", NARROW).style("font-size", "20px")
    .text(s.title);

  if (i % 2 === 0) {
    svg.append("text")
      .attr("transform", `translate(30,${(f.y0 + f.y1) / 2}) rotate(-90)`)
      .attr("text-anchor", "middle").style("font-family", SANS).style("font-size", "17px")
      .text(yLabel);
  }
  if (i === 3) {
    svg.append("text").attr("x", f.x1 - 38).attr("y", f.y1 - 28)
      .attr("text-anchor", "end").style("font-family", SANS).style("font-size", "12.5px")
      .attr("fill", "#222").text(ensembleNote);
  }
});

// legend in the first panel
const lg = { x: 112, y: 73, w: 98, h: 40 };
defs.append("clipPath").attr("id", "legclip").append("rect")
  .attr("x", lg.x).attr("y", lg.y).attr("width", lg.w).attr("height", lg.h);
svg.append("rect").attr("x", lg.x).attr("y", lg.y).attr("width", lg.w).attr("height", lg.h)
  .attr("fill", "#ececec");
const lgi = svg.append("g").attr("clip-path", "url(#legclip)");
lgi.append("circle").attr("cx", lg.x + 14).attr("cy", lg.y + 13).attr("r", 4).attr("fill", "#000");
lgi.append("circle").attr("cx", lg.x + 14).attr("cy", lg.y + 27).attr("r", 3.6).attr("fill", "#ffff00");
legendLabels.forEach((t, k) => lgi.append("text")
  .attr("x", lg.x + 31).attr("y", lg.y + 17 + k * 14)
  .style("font-family", SANS).style("font-size", "12.5px").attr("fill", "#111").text(t));
svg.append("rect").attr("x", lg.x).attr("y", lg.y).attr("width", lg.w).attr("height", lg.h)
  .attr("fill", "none").attr("stroke", "#000").attr("stroke-width", 2.5);
</script>
</body>
</html>
